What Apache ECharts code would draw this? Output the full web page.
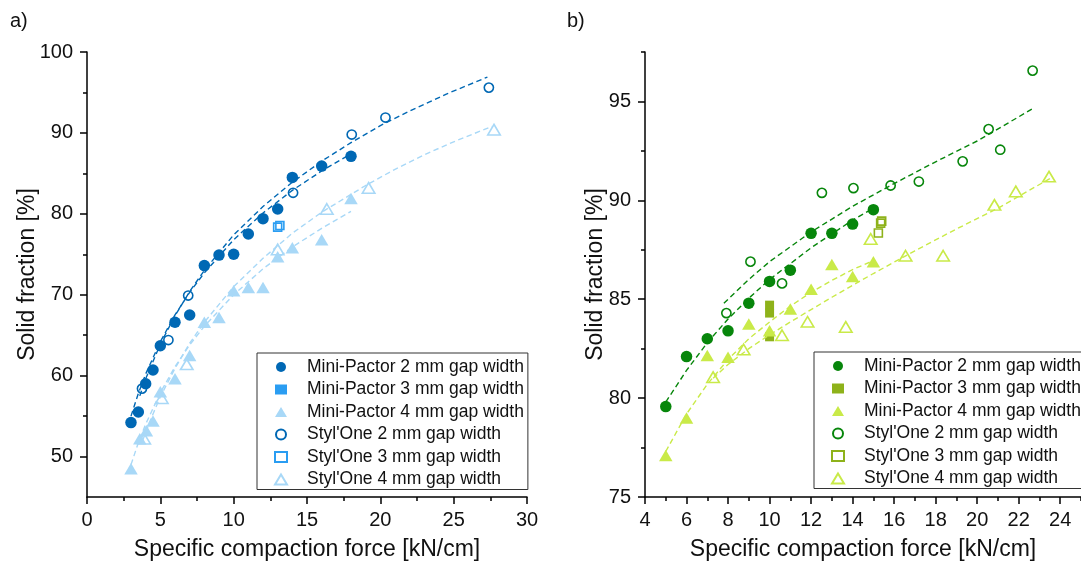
<!DOCTYPE html>
<html><head><meta charset="utf-8">
<script src="https://cdn.jsdelivr.net/npm/echarts@6/dist/echarts.min.js"></script>
<style>html,body{margin:0;padding:0;background:#fff}#c{width:1081px;height:567px}</style>
</head><body><div id="c"></div>
<script>
// ---------- Panel a data ----------
const aMP2x = [3, 3.5, 4, 4.5, 5, 6, 7, 8, 9, 10, 11, 12, 13, 14, 16, 18];
const aMP2y = [54.2, 55.5, 59.0, 60.7, 63.7, 66.6, 67.5, 73.6, 74.9, 75.0, 77.5, 79.4, 80.6, 84.5, 85.9, 87.1];
const aMP3x = [];
const aMP3y = [];
const aMP4x = [3, 3.6, 4.05, 4.5, 5, 6, 7, 8, 9, 10, 11, 12, 13, 14, 16, 18];
const aMP4y = [48.5, 52.2, 53.2, 54.4, 58.0, 59.6, 62.5, 66.6, 67.2, 70.5, 70.9, 70.9, 74.7, 75.8, 76.8, 81.9];
const aS2x = [3.75, 5.55, 6.9, 14.05, 18.05, 20.35, 27.4];
const aS2y = [58.4, 64.4, 69.9, 82.6, 89.8, 91.9, 95.6];
const aS3x = [13.0, 13.15];
const aS3y = [78.35, 78.55];
const aS4x = [3.9, 5.1, 6.8, 13.0, 16.35, 19.2, 27.75];
const aS4y = [52.2, 57.2, 61.4, 75.6, 80.6, 83.2, 90.4];
// fitted trend lines
const aFitMP2x = [3, 3.5, 4, 5, 6, 7, 8, 10, 12, 14, 16, 18];
const aFitMP2y = [55.0, 57.8, 60.2, 64.2, 67.5, 70.3, 72.7, 76.8, 80.1, 82.9, 85.3, 87.4];
const aFitS2x = [3.6, 4, 5, 6, 7, 8, 10, 12, 14, 16, 18, 20, 22, 24.5, 27.3];
const aFitS2y = [57.5, 59.6, 63.9, 67.4, 70.4, 73.0, 77.4, 80.9, 83.9, 86.5, 88.8, 90.9, 92.7, 94.8, 96.9];
const aFitMP4x = [3, 3.5, 4, 5, 6, 7, 8, 10, 12, 14, 16, 18];
const aFitMP4y = [49.0, 51.7, 54.0, 57.9, 61.1, 63.8, 66.1, 70.0, 73.2, 75.9, 78.2, 80.3];
const aFitS4x = [3.8, 4.3, 5, 6, 7, 8, 10, 12, 14, 16, 19, 21, 23, 25, 27.6];
const aFitS4y = [52.0, 54.4, 57.4, 60.9, 64.0, 66.6, 71.0, 74.5, 77.6, 80.2, 83.5, 85.5, 87.3, 88.9, 90.8];

// ---------- Panel b data ----------
const bMP2x = [5, 6, 7, 8, 9, 10, 11, 12, 13, 14, 15];
const bMP2y = [79.57, 82.1, 83.0, 83.4, 84.8, 85.9, 86.47, 88.33, 88.33, 88.8, 89.53];
const bMP3x = [10, 10, 10];
const bMP3y = [84.7, 84.3, 83.1];
const bMP4x = [5, 6, 7, 8, 9, 10, 11, 12, 13, 14, 15];
const bMP4y = [77.1, 79.0, 82.16, 82.07, 83.75, 83.4, 84.5, 85.5, 86.76, 86.15, 86.9];
const bS2x = [7.92, 9.08, 10.6, 12.52, 14.04, 15.83, 17.19, 19.3, 20.55, 21.11, 22.67];
const bS2y = [84.3, 86.9, 85.8, 90.38, 90.62, 90.75, 90.95, 91.97, 93.6, 92.56, 96.56];
const bS3x = [15.4, 15.35, 15.24];
const bS3y = [88.95, 88.85, 88.35];
const bS4x = [7.28, 8.75, 10.6, 11.83, 13.67, 14.87, 16.55, 18.36, 20.83, 21.86, 23.46];
const bS4y = [81.06, 82.46, 83.18, 83.86, 83.6, 88.05, 87.2, 87.2, 89.77, 90.45, 91.2];
const bFitMP2x = [5, 6, 7, 8, 9, 10, 11, 12, 13, 14, 15];
const bFitMP2y = [79.8, 81.4, 82.8, 84.0, 85.05, 86.0, 86.8, 87.6, 88.3, 89.0, 89.6];
const bFitMP4x = [5, 6, 7, 8, 9, 10, 11, 12, 13, 14, 15];
const bFitMP4y = [77.3, 79.2, 80.7, 81.95, 83.0, 83.85, 84.65, 85.35, 85.95, 86.5, 86.95];
const bFitS2x = [7.8, 9, 10, 12, 14, 16, 18, 20, 22.7];
const bFitS2y = [84.8, 86.0, 86.9, 88.4, 89.7, 90.85, 91.95, 93.0, 94.65];
const bFitS4x = [7.28, 8, 9, 10, 11, 13, 15, 17, 19, 21, 23.5];
const bFitS4y = [81.0, 81.7, 82.5, 83.2, 83.85, 85.1, 86.3, 87.45, 88.55, 89.6, 91.1];

// ---------- ticks ----------
const aXMajor = [0, 5, 10, 15, 20, 25, 30];
const aXMinor = [2.5, 7.5, 12.5, 17.5, 22.5, 27.5];
const aYMajor = [50, 60, 70, 80, 90, 100];
const aYMinor = [55, 65, 75, 85, 95];
const bXMajor = [4, 6, 8, 10, 12, 14, 16, 18, 20, 22, 24];
const bXMinor = [5, 7, 9, 11, 13, 15, 17, 19, 21, 23, 25];
const bYMajor = [75, 80, 85, 90, 95];
const bYMinor = [77.5, 82.5, 87.5, 92.5, 97.5];

const legendNames = ['Mini-Pactor 2 mm gap width', 'Mini-Pactor 3 mm gap width', 'Mini-Pactor 4 mm gap width',
  "Styl'One 2 mm gap width", "Styl'One 3 mm gap width", "Styl'One 4 mm gap width"];
const bNames = legendNames.map(n => n + '\u200B');

const FONT = 'Liberation Sans, Arial, sans-serif';
const TXT = '#111';
const blue = ['#0068b4', '#2a9df2', '#a8d8f7'];
const green = ['#07860b', '#8eb21a', '#c9ea48'];

const zip = (xs, ys) => xs.map((x, i) => [x, ys[i]]);

function mainX(grid, min, max, major, name) {
  return {
    gridIndex: grid, type: 'value', min: min, max: max, position: 'bottom',
    axisLine: {show: true, onZero: false, lineStyle: {color: '#000', width: 1.5}},
    axisTick: {show: true, inside: false, length: 7, customValues: major, lineStyle: {color: '#000', width: 1.5}},
    axisLabel: {customValues: major, margin: 13, fontSize: 20, color: TXT, fontFamily: FONT},
    splitLine: {show: false},
    name: name, nameLocation: 'middle', nameGap: 41, nameMoveOverlap: false,
    nameTextStyle: {fontSize: 23, color: TXT, fontFamily: FONT}
  };
}
function minorX(grid, min, max, minor) {
  return {
    gridIndex: grid, type: 'value', min: min, max: max, position: 'bottom', offset: 0,
    axisLine: {show: false, onZero: false},
    axisTick: {show: true, inside: false, length: 4, customValues: minor, lineStyle: {color: '#000', width: 1.5}},
    axisLabel: {show: false}, splitLine: {show: false}
  };
}
function mainY(grid, min, max, major, gap) {
  return {
    gridIndex: grid, type: 'value', min: min, max: max, position: 'left',
    axisLine: {show: true, onZero: false, lineStyle: {color: '#000', width: 1.5}},
    axisTick: {show: true, inside: false, length: 7, customValues: major, lineStyle: {color: '#000', width: 1.5}},
    axisLabel: {customValues: major, margin: 14, fontSize: 20, color: TXT, fontFamily: FONT},
    splitLine: {show: false},
    name: 'Solid fraction [%]', nameLocation: 'middle', nameGap: gap, nameRotate: 90, nameMoveOverlap: false,
    nameTextStyle: {fontSize: 23, color: TXT, fontFamily: FONT}
  };
}
function minorY(grid, min, max, minor) {
  return {
    gridIndex: grid, type: 'value', min: min, max: max, position: 'left', offset: 0,
    axisLine: {show: false, onZero: false},
    axisTick: {show: true, inside: false, length: 4, customValues: minor, lineStyle: {color: '#000', width: 1.5}},
    axisLabel: {show: false}, splitLine: {show: false}
  };
}

function scatter(name, xi, yi, xs, ys, symbol, size, color, hollow) {
  return {
    name: name, type: 'scatter', xAxisIndex: xi, yAxisIndex: yi,
    symbol: symbol, symbolSize: size, data: zip(xs, ys), silent: true,
    itemStyle: hollow ? {color: 'rgba(255,255,255,0)', borderColor: color, borderWidth: 1.6, opacity: 1}
                      : {color: color, borderWidth: 0, opacity: 1}
  };
}
function fit(xi, yi, xs, ys, color) {
  return {
    type: 'line', xAxisIndex: xi, yAxisIndex: yi, data: zip(xs, ys), showSymbol: false, symbol: 'none',
    smooth: false, silent: true, z: 3,
    lineStyle: {color: color, width: 1.4, type: [5.5, 3.5]}
  };
}

const TRI = [13.5, 11.5];
const TRIH = [12.5, 10.5];

const series = [
  scatter(legendNames[0], 0, 0, aMP2x, aMP2y, 'circle', 11.5, blue[0], false),
  scatter(legendNames[1], 0, 0, aMP3x, aMP3y, 'rect', 9, blue[1], false),
  scatter(legendNames[2], 0, 0, aMP4x, aMP4y, 'triangle', TRI, blue[2], false),
  scatter(legendNames[3], 0, 0, aS2x, aS2y, 'circle', 9.2, blue[0], true),
  scatter(legendNames[4], 0, 0, aS3x, aS3y, 'rect', 8, blue[1], true),
  scatter(legendNames[5], 0, 0, aS4x, aS4y, 'triangle', TRIH, blue[2], true),
  fit(0, 0, aFitMP2x, aFitMP2y, blue[0]),
  fit(0, 0, aFitS2x, aFitS2y, blue[0]),
  fit(0, 0, aFitMP4x, aFitMP4y, blue[2]),
  fit(0, 0, aFitS4x, aFitS4y, blue[2]),

  scatter(bNames[0], 2, 2, bMP2x, bMP2y, 'circle', 11.5, green[0], false),
  scatter(bNames[1], 2, 2, bMP3x, bMP3y, 'rect', 9, green[1], false),
  scatter(bNames[2], 2, 2, bMP4x, bMP4y, 'triangle', TRI, green[2], false),
  scatter(bNames[3], 2, 2, bS2x, bS2y, 'circle', 9.2, green[0], true),
  scatter(bNames[4], 2, 2, bS3x, bS3y, 'rect', 8, green[1], true),
  scatter(bNames[5], 2, 2, bS4x, bS4y, 'triangle', TRIH, green[2], true),
  fit(2, 2, bFitMP2x, bFitMP2y, green[0]),
  fit(2, 2, bFitS2x, bFitS2y, green[0]),
  fit(2, 2, bFitMP4x, bFitMP4y, green[2]),
  fit(2, 2, bFitS4x, bFitS4y, green[2])
];

function legend(left, top, names) {
  return {
    left: left, top: top, orient: 'vertical', padding: [5, 4, 1, 17],
    itemWidth: 12, itemHeight: 10, itemGap: 4.5,
    borderColor: '#333', borderWidth: 1, backgroundColor: '#fff', selectedMode: false,
    textStyle: {fontSize: 17.5, lineHeight: 18, color: TXT, fontFamily: FONT, padding: [0, 0, 0, 15]},
    data: names
  };
}

const option = {
  animation: false,
  backgroundColor: '#fff',
  title: [
    {text: 'a)', left: 10, top: 11, padding: 0, textStyle: {fontSize: 20, fontWeight: 'normal', color: TXT, fontFamily: FONT}},
    {text: 'b)', left: 567, top: 11, padding: 0, textStyle: {fontSize: 20, fontWeight: 'normal', color: TXT, fontFamily: FONT}}
  ],
  grid: [
    {left: 87, top: 52, width: 440, height: 445, containLabel: false},
    {left: 645, top: 52, width: 438, height: 445, containLabel: false}
  ],
  xAxis: [
    mainX(0, 0, 30, aXMajor, 'Specific compaction force [kN/cm]'),
    minorX(0, 0, 30, aXMinor),
    mainX(1, 4, 25, bXMajor, 'Specific compaction force [kN/cm]'),
    minorX(1, 4, 25, bXMinor)
  ],
  yAxis: [
    mainY(0, 45, 100, aYMajor, 47.5),
    minorY(0, 45, 100, aYMinor),
    mainY(1, 75, 97.5, bYMajor, 37.5),
    minorY(1, 75, 97.5, bYMinor)
  ],
  legend: [legend(257, 353, legendNames), legend(814, 352, bNames)],
  series: series
};

const chart = echarts.init(document.getElementById('c'), null, {renderer: 'canvas'});
chart.setOption(option);
</script>
</body></html>
